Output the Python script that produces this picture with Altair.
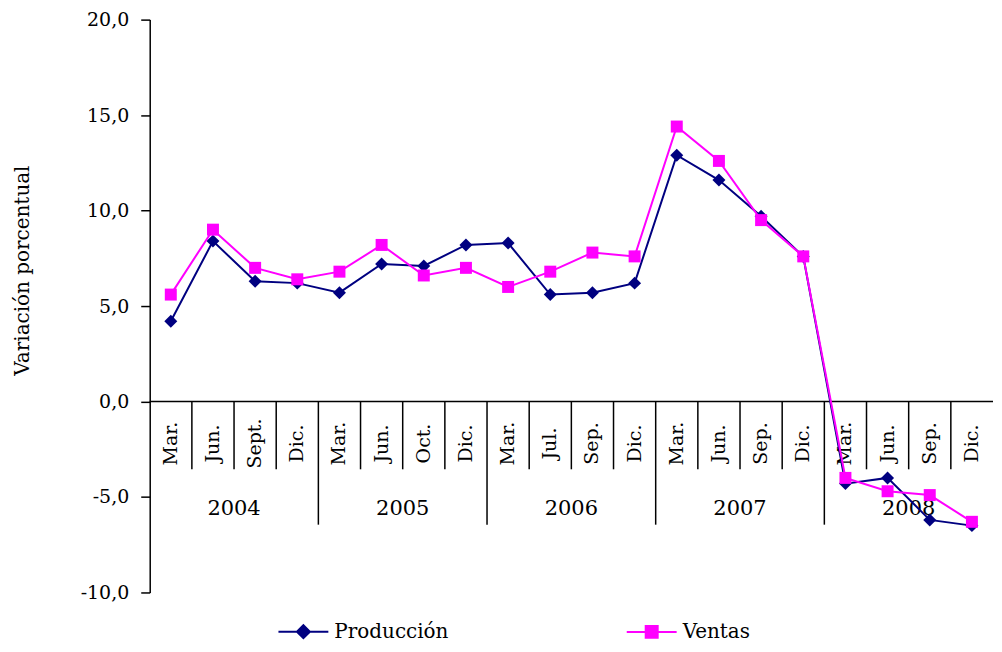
import altair as alt
import pandas as pd

# ---- data ----
meses = ["Mar.", "Jun.", "Sept.", "Dic.",
         "Mar.", "Jun.", "Oct.", "Dic.",
         "Mar.", "Jul.", "Sep.", "Dic.",
         "Mar.", "Jun.", "Sep.", "Dic.",
         "Mar.", "Jun.", "Sep.", "Dic."]
anios = ["2004", "2005", "2006", "2007", "2008"]
produccion = [4.2, 8.4, 6.3, 6.2, 5.7, 7.2, 7.1, 8.2, 8.3, 5.6,
              5.7, 6.2, 12.9, 11.6, 9.7, 7.6, -4.3, -4.0, -6.2, -6.5]
ventas = [5.6, 9.0, 7.0, 6.4, 6.8, 8.2, 6.6, 7.0, 6.0, 6.8,
          7.8, 7.6, 14.4, 12.6, 9.5, 7.6, -4.0, -4.7, -4.9, -6.3]
series = ["Producción", "Ventas"]
colores = ["#000080", "#FF00FF"]
y_ticks = [-10, -5, 0, 5, 10, 15, 20]

FONT = "DejaVu Serif"
n = len(meses)
per_year = n // len(anios)

rows = []
for i in range(n):
    rows.append({"pos": i + 0.5, "serie": series[0], "valor": produccion[i]})
    rows.append({"pos": i + 0.5, "serie": series[1], "valor": ventas[i]})
df = pd.DataFrame(rows)

# category axis decorations (in data units)
MONTH_SEP = -3.55
YEAR_SEP = -6.45
sep_rows = []
for k in range(1, n):
    sep_rows.append({"x": k, "y0": 0, "y1": YEAR_SEP if k % per_year == 0 else MONTH_SEP})
sep_df = pd.DataFrame(sep_rows)
mes_df = pd.DataFrame({"pos": [i + 0.5 for i in range(n)], "lab": meses, "y": [-2.2] * n})
anio_df = pd.DataFrame({"pos": [j * per_year + per_year / 2 for j in range(len(anios))],
                        "lab": anios, "y": [-5.65] * len(anios)})
axis_df = pd.DataFrame({"x0": [0], "x1": [n], "y": [0]})

xs = alt.Scale(domain=[0, n], nice=False, zero=False)
ys = alt.Scale(domain=[-10, 20], nice=False, zero=False)

# legend symbols: a line with the marker in its middle (unit = 10 px at size 400)
legend_paths = [
    "M-2.5,0L2.5,0M0,-0.65L0.65,0L0,0.65L-0.65,0Z",
    "M-2.5,0L2.5,0M-0.6,-0.6L0.6,-0.6L0.6,0.6L-0.6,0.6Z",
]

legend = alt.Legend(
    title=None, orient="none", legendX=128, legendY=602, direction="horizontal",
    symbolSize=400, symbolStrokeWidth=2, symbolOffset=15,
    labelFont=FONT, labelFontSize=20,
    labelColor="black", labelOffset=20, columnPadding=174, labelLimit=300,
    symbolOpacity=1,
)
col_scale = alt.Scale(domain=series, range=colores)
color = alt.Color("serie:N", scale=col_scale, legend=None)

y_enc = alt.Y("valor:Q", scale=ys, title="Variación porcentual",
              axis=alt.Axis(values=y_ticks, grid=False, tickSize=9, labelPadding=12,
                            labelExpr="replace(replace(format(datum.value, '.1f'), '.', ','), '\u2212', '-')",
                            labelFont=FONT, labelFontSize=19, labelColor="black",
                            domainColor="black", domainWidth=1.5, tickColor="black", tickWidth=1.5,
                            titleFont=FONT, titleFontSize=20, titleFontWeight="normal",
                            titleColor="black", titlePadding=48, titleY=251))
x_enc = alt.X("pos:Q", scale=xs, axis=None)

axis_line = alt.Chart(axis_df).mark_rule(color="black", strokeWidth=1.5).encode(
    x=alt.X("x0:Q", scale=xs, axis=None), x2="x1:Q",
    y=alt.Y("y:Q", scale=ys))
seps = alt.Chart(sep_df).mark_rule(color="black", strokeWidth=1.5).encode(
    x=alt.X("x:Q", scale=xs, axis=None), y=alt.Y("y0:Q", scale=ys), y2="y1:Q")
mes_txt = alt.Chart(mes_df).mark_text(angle=270, align="center", baseline="middle",
                                      font=FONT, fontSize=19, color="black").encode(
    x=alt.X("pos:Q", scale=xs, axis=None), y=alt.Y("y:Q", scale=ys), text="lab:N")
anio_txt = alt.Chart(anio_df).mark_text(align="center", baseline="middle",
                                        font=FONT, fontSize=21, color="black").encode(
    x=alt.X("pos:Q", scale=xs, axis=None), y=alt.Y("y:Q", scale=ys), text="lab:N")

# legend-only layer (no rows drawn); its scales carry the legend
legend_layer = alt.Chart(df).transform_filter("false").mark_point(filled=True, strokeWidth=2).encode(
    x=x_enc, y=y_enc,
    fill=alt.Fill("serie:N", scale=col_scale, legend=legend),
    stroke=alt.Stroke("serie:N", scale=col_scale, legend=legend),
    shape=alt.Shape("serie:N", scale=alt.Scale(domain=series, range=legend_paths), legend=legend),
)

layers = [axis_line, seps, mes_txt, anio_txt, legend_layer]
shapes = {"Producción": ("diamond", 169), "Ventas": ("square", 144)}
for s in series:
    sub = alt.Chart(df).transform_filter(alt.datum.serie == s)
    line = sub.mark_line(strokeWidth=2).encode(x=x_enc, y=y_enc, color=color)
    pts = sub.mark_point(filled=True, opacity=1, shape=shapes[s][0], size=shapes[s][1]).encode(
        x=x_enc, y=y_enc, color=color)
    layers += [line, pts]

chart = alt.layer(*layers).properties(
    width=845, height=574,
    padding={"left": 4, "top": 2, "right": 0, "bottom": 0},
    background="white",
).configure_view(stroke=None)

chart.save("out.html", embed_options={"renderer": "svg", "actions": False})
